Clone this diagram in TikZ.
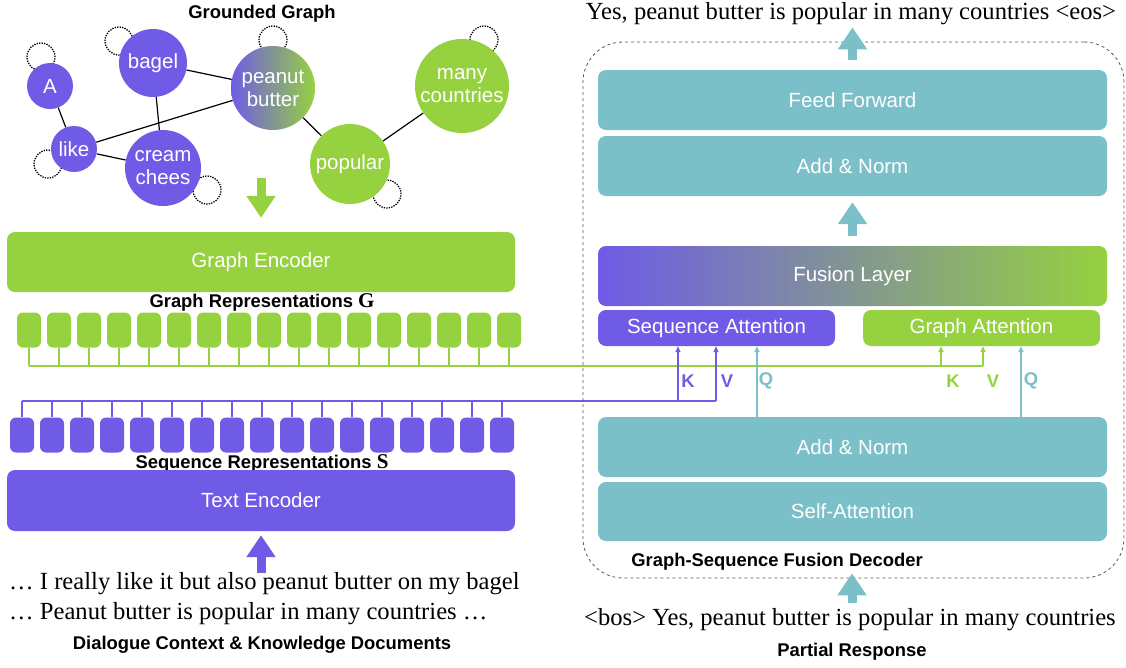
\documentclass[tikz,border=0pt]{standalone}
\usepackage{fontspec}
\setmainfont{Liberation Serif}
\setsansfont{Liberation Sans}
\usepackage{tikz}
\usetikzlibrary{arrows.meta,backgrounds}

\definecolor{seqc}{HTML}{6F5BE6}
\definecolor{grc}{HTML}{96D13F}
\definecolor{decc}{HTML}{7BC0C8}

\newcommand{\boxfont}{\fontsize{20.5}{23}\selectfont\sffamily}
\newcommand{\capfont}{\fontsize{18.4}{20}\selectfont\sffamily\bfseries}
\newcommand{\txtfont}{\fontsize{24.6}{28}\selectfont\rmfamily}

\begin{document}
\begin{tikzpicture}[x=1pt,y=-1pt,
    gnode/.style={circle,inner sep=0pt,text=white,font=\boxfont,align=center},
    layerbox/.style={rounded corners=8pt,inner sep=0pt,text=white,font=\boxfont,minimum width=509pt,minimum height=60pt},
    attbox/.style={rounded corners=8pt,inner sep=0pt,text=white,font=\boxfont,minimum width=237pt,minimum height=36pt},
    tok/.style={rounded corners=6pt,inner sep=0pt,minimum width=24pt,minimum height=35pt},
    gedge/.style={line width=1.2pt},
    selfloop/.style={dash pattern=on 1.3pt off 1.2pt,line width=1.3pt,black},
    gline/.style={draw=grc,line width=1.5pt},
    sline/.style={draw=seqc,line width=1.5pt},
    qline/.style={draw=decc,line width=1.5pt},
    tip/.style={-{Triangle[width=5pt,length=6pt]}},
    fatarrow/.style={line width=9pt,-{Triangle[width=28pt,length=22pt]}},
    kvq/.style={font=\capfont}]
  \useasboundingbox (0,0) rectangle (1126,667);

  % grounded graph
  \node[font=\capfont] (ggtitle) at (262,14) {Grounded Graph};
  \node[gnode,fill=seqc,minimum size=46pt] (A) at (50,86) {A};
  \node[gnode,fill=seqc,minimum size=68pt] (bagel) at (153,63) {bagel};
  \node[gnode,fill=seqc,minimum size=46pt] (like) at (74,149) {like};
  \node[gnode,fill=seqc,minimum size=76pt] (cream) at (163,168) {cream\\chees};
  \node[gnode,left color=seqc,right color=grc,minimum size=84pt] (peanut) at (273,88) {peanut\\butter};
  \node[gnode,fill=grc,minimum size=80pt] (popular) at (350,164) {popular};
  \node[gnode,fill=grc,minimum size=94pt] (many) at (462,86) {many\\countries};
  \begin{scope}[on background layer]
    \draw[gedge] (A) -- (like) (like) -- (peanut) (like) -- (cream)
      (bagel) -- (cream) (bagel) -- (peanut) (peanut) -- (popular) (popular) -- (many);
    \foreach \n/\dx/\dy in {A/-9/-29,bagel/-34/-22,like/-26/15,cream/44/22,peanut/0/-48,popular/37/30,many/22/-46}
      \draw[selfloop] ([shift={(\dx,\dy)}]\n.center) circle (14pt);
  \end{scope}

  % encoders
  \node[layerbox,fill=grc,minimum width=508pt] (genc) at (261,262) {Graph Encoder};
  \draw[fatarrow,draw=grc] ([yshift=54pt]genc.north) -- ([yshift=14pt]genc.north);
  \node[font=\capfont] (grep) at (262,302) {Graph Representations {\rmfamily\fontsize{21}{21}\selectfont G}};
  \foreach \i in {0,...,16} {
    \node[tok,fill=grc] (g\i) at (29+30*\i,330) {};
    \draw[gline] (g\i.south) -- (g\i.south |- 0,366);
  }
  \draw[gline] (g0.south |- 0,366) -- (983,366);

  \foreach \i in {0,...,16} {
    \node[tok,fill=seqc] (s\i) at (22+30*\i,435) {};
    \draw[sline] (s\i.north) -- (s\i.north |- 0,401);
  }
  \draw[sline] (s0.north |- 0,401) -- (716,401);
  \node[font=\capfont] (srep) at (262,463) {Sequence Representations {\rmfamily\fontsize{21}{21}\selectfont S}};
  \node[layerbox,fill=seqc,minimum width=508pt,minimum height=61pt] (tenc) at (261,500.5) {Text Encoder};
  \node[font=\txtfont,anchor=west,inner sep=0pt] (ctx1) at (9,584) {… I really like it but also peanut butter on my bagel};
  \node[font=\txtfont,anchor=west,inner sep=0pt] (ctx2) at (9,614) {… Peanut butter is popular in many countries …};
  \node[font=\capfont] (ctxlbl) at (262,645) {Dialogue Context \& Knowledge Documents};
  \draw[fatarrow,draw=seqc,shorten >=4pt] (tenc.south |- ctx1.north) -- (tenc.south);

  % decoder
  \node[font=\txtfont,inner sep=0pt] (out) at (851,14) {Yes, peanut butter is popular in many countries <eos>};
  \node[draw=black!65,dashed,line width=0.8pt,rounded corners=40pt,minimum width=541pt,minimum height=536pt] (dec) at (853.5,310) {};
  \node[layerbox,fill=decc] (ff) at (852.5,100) {Feed Forward};
  \node[layerbox,fill=decc] (an1) at (852.5,166) {Add \& Norm};
  \node[layerbox,left color=seqc,right color=grc] (fus) at (852.5,276) {Fusion Layer};
  \node[attbox,fill=seqc] (satt) at (716.5,328) {Sequence Attention};
  \node[attbox,fill=grc] (gatt) at (981.5,328) {Graph Attention};
  \node[layerbox,fill=decc] (an2) at (852.5,447) {Add \& Norm};
  \node[layerbox,fill=decc,minimum height=59pt] (self) at (852.5,511.5) {Self-Attention};
  \node[font=\capfont] (declbl) at (777,562) {Graph-Sequence Fusion Decoder};
  \node[font=\txtfont,inner sep=0pt] (inp) at (850,620) {<bos> Yes, peanut butter is popular in many countries};
  \node[font=\capfont] (inlbl) at (852,652) {Partial Response};

  \draw[fatarrow,draw=decc,shorten <=10pt,shorten >=2pt] (ff.north) -- (ff.north |- out.south);
  \draw[fatarrow,draw=decc,shorten <=10pt,shorten >=6pt] (fus.north) -- (an1.south);
  \draw[fatarrow,draw=decc] ([yshift=6pt]inp.north -| 852,0) -- ([yshift=5pt]dec.south -| 852,0);

  % keys, values, queries
  \coordinate (sK) at (678,401);
  \coordinate (sV) at (716,401);
  \coordinate (gK) at (941,366);
  \coordinate (gV) at (983,366);
  \draw[sline,tip] (sK) -- (sK |- satt.south);
  \draw[sline,tip] (sV) -- (sV |- satt.south);
  \draw[gline,tip] (gK) -- (gK |- gatt.south);
  \draw[gline,tip] (gV) -- (gV |- gatt.south);
  \draw[qline,tip] (757,0 |- an2.north) -- (757,0 |- satt.south);
  \draw[qline,tip] (1021,0 |- an2.north) -- (1021,0 |- gatt.south);
  \node[kvq,text=seqc] (kS) at (688,381) {K};
  \node[kvq,text=seqc] (vS) at (727,381) {V};
  \node[kvq,text=decc] (qS) at (766,381) {Q};
  \node[kvq,text=grc] (kG) at (953,381) {K};
  \node[kvq,text=grc] (vG) at (993,381) {V};
  \node[kvq,text=decc] (qG) at (1031,381) {Q};
\end{tikzpicture}
\end{document}
